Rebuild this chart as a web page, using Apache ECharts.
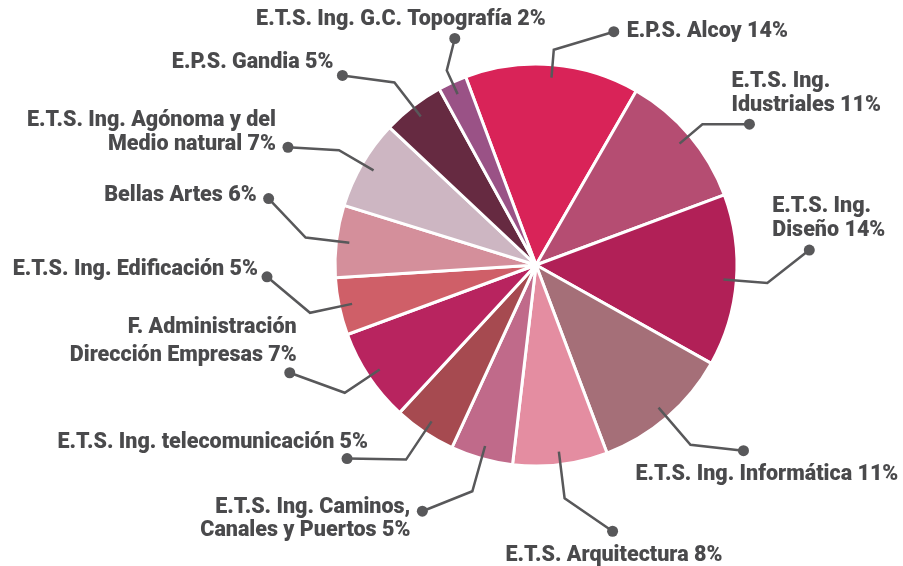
<!DOCTYPE html>
<html><head><meta charset="utf-8">
<script src="https://cdn.jsdelivr.net/npm/echarts@6/dist/echarts.min.js"></script>
<style>html,body{margin:0;padding:0;background:#fff}#c{width:903px;height:566px}</style>
</head><body><div id="c"></div>
<script>
// ---- data ----
const categories = [
  'E.P.S. Alcoy',
  'E.T.S. Ing.\nIdustriales',
  'E.T.S. Ing.\nDiseño',
  'E.T.S. Ing. Informática',
  'E.T.S. Arquitectura',
  'E.T.S. Ing. Caminos,\nCanales y Puertos',
  'E.T.S. Ing. telecomunicación',
  'F. Administración\nDirección Empresas',
  'E.T.S. Ing. Edificación',
  'Bellas Artes',
  'E.T.S. Ing. Agónoma y del\nMedio natural',
  'E.P.S. Gandia',
  'E.T.S. Ing. G.C. Topografía'
];
const shares = [14, 11, 14, 11, 8, 5, 5, 7, 5, 6, 7, 5, 2];          // labelled %
const values = [14, 11, 13.8, 11.1, 7.6, 5, 5, 7.5, 4.6, 5.8, 7.2, 5, 2.3]; // slice sizes
const colors = ['#d92358', '#b54d72', '#b12057', '#a56f78', '#e48da1', '#c06a8a', '#a64a50',
                '#b8245f', '#cf5f68', '#d48f9b', '#cdb6c2', '#662a41', '#9a5286'];

// ---- layout / style (not data) ----
const CX = 536, CY = 265, R = 201, R_LINE = 188;
const lineLen = [28, 30, 44, 49, 47, 47, 46, 42, 43, 44, 40, 43, 26];
const seg2 = [[60,-18],[47,0],[42,-33],[53,6],[48,33],[-50,20],[-59,-1],[-55,-20],[-43,-36],[-37,-39],[-51,-3],[-52,-7],[8,-32]];
const textOff = [[13,0,'left'],[-18,-31,'left'],[-37,-31,'left'],[-108,24,'left'],[-107,24,'left'],
                 [-12,8,'right'],[21,-16,'right'],[7,-31,'right'],[-9,-7,'right'],[-12,-3,'right'],
                 [-12,-15,'right'],[-9,-13,'right'],[91,-19,'right']];
const lineHeights = [24,24,24,24,24,23,24,28,24,24,24,24,24];
const GRAY = '#58585a';

const chart = echarts.init(document.getElementById('c'), null, {renderer: 'canvas'});
const dots = [];

const mainData = categories.map((c, i) => ({name: c, value: values[i], itemStyle: {color: colors[i]}}));
const labelData = categories.map((c, i) => ({
  name: c, value: values[i],
  label: {lineHeight: lineHeights[i]},
  labelLine: {length: lineLen[i], length2: 10}
}));

const option = {
  animation: false,
  backgroundColor: '#fff',
  series: [
    {
      type: 'pie', center: [CX, CY], radius: R, startAngle: 110.5, clockwise: true,
      data: mainData, label: {show: false}, labelLine: {show: false}, silent: true,
      itemStyle: {borderColor: '#fff', borderWidth: 3}
    },
    {
      type: 'pie', center: [CX, CY], radius: R_LINE, startAngle: 110.5, clockwise: true, z: 5,
      silent: true, avoidLabelOverlap: false,
      data: labelData,
      itemStyle: {color: 'rgba(0,0,0,0)', borderWidth: 0},
      label: {
        show: true, position: 'outside', alignTo: 'none',
        formatter: p => categories[p.dataIndex] + ' ' + shares[p.dataIndex] + '%',
        color: '#4a4a4c', fontFamily: 'Roboto', fontWeight: 900, fontSize: 21.5
      },
      labelLine: {show: true, smooth: false, minTurnAngle: 0, maxSurfaceAngle: 180,
        lineStyle: {color: GRAY, width: 2.5}},
      labelLayout: function (params) {
        const i = params.dataIndex;
        const pts = params.labelLinePoints;
        if (!pts || pts.length < 2) return {};
        const p0 = pts[0], p1 = pts[1];
        const p2 = [p1[0] + seg2[i][0], p1[1] + seg2[i][1]];
        dots[i] = p2;
        return {
          labelLinePoints: [p0, p1, p2],
          x: p2[0] + textOff[i][0], y: p2[1] + textOff[i][1],
          align: textOff[i][2], verticalAlign: 'middle'
        };
      }
    }
  ]
};
chart.setOption(option);
chart.setOption({
  graphic: dots.map(d => ({
    type: 'circle', shape: {cx: d[0], cy: d[1], r: 5.5}, style: {fill: GRAY}, z: 10, silent: true
  }))
});
</script>
</body></html>
